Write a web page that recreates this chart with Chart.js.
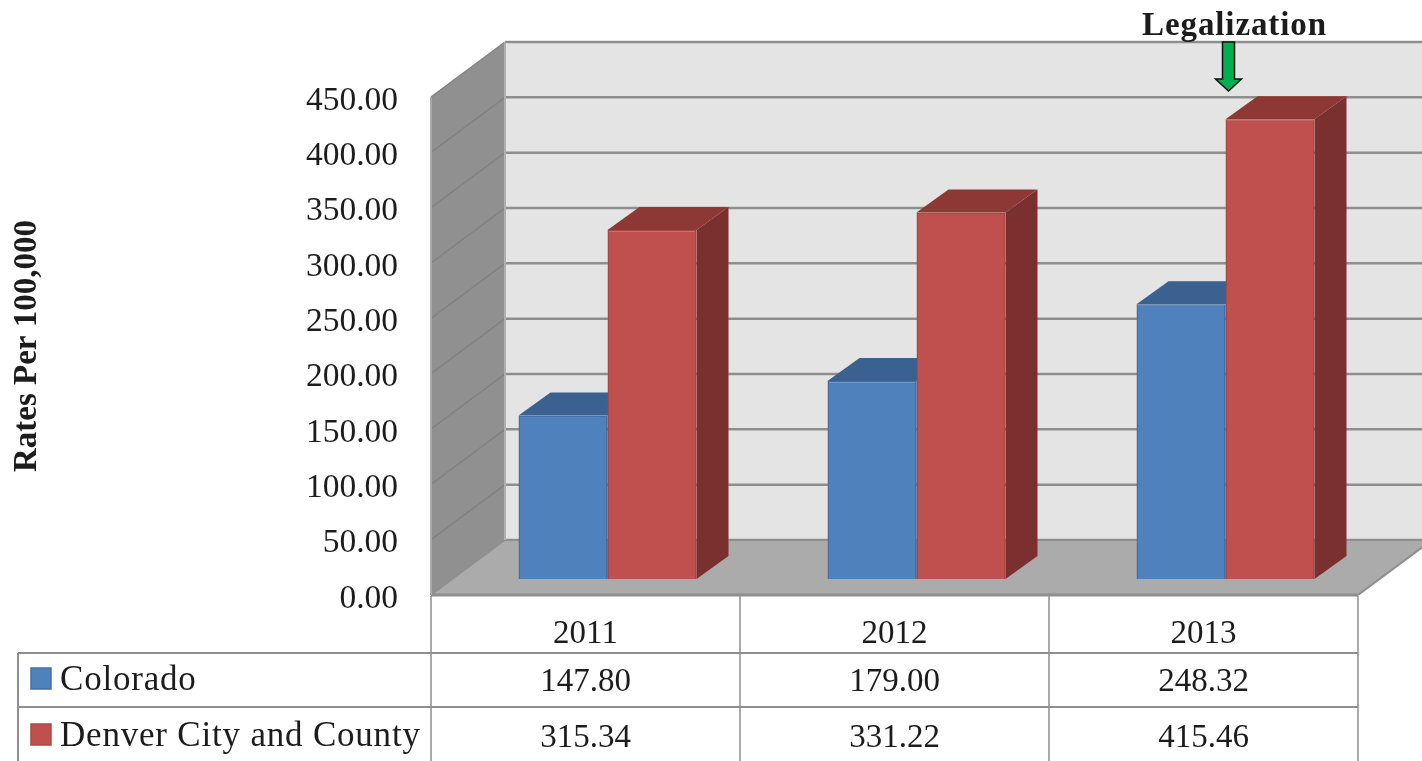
<!DOCTYPE html>
<html><head><meta charset="utf-8">
<style>html,body{margin:0;padding:0;background:#fff}canvas{display:block}</style>
<script src="https://cdn.jsdelivr.net/npm/chart.js@4"></script>
</head><body>
<canvas id="c" width="1422" height="761"></canvas>
<script>
const categories = ['2011','2012','2013'];
const coloradoValues = [147.80,179.00,248.32];
const denverValues = [315.34,331.22,415.46];
const seriesNames = ['Colorado','Denver City and County'];
const axisTitle = 'Rates Per 100,000';
const annotationText = 'Legalization';
const annotationCategory = '2013';
const yMax = 450, yStep = 50;

const SERIF = '"Liberation Serif", serif';
const TXT = '#1c1c1c', LINE = '#8e8e8e';
const WALL = {dx:74, dy:55};
const BAR = {dx:22, dy:16, depthX:32, depthY:23};
const faces = [
  {front:'#4f81bd', border:'#466fa6', top:'#3a6190', side:'#325580'},
  {front:'#c0504d', border:'#ad4744', top:'#8e3836', side:'#7a302e'}
];
function poly(ctx, pts, fill, stroke, lw){
  ctx.beginPath(); pts.forEach((p,i)=> i?ctx.lineTo(p[0],p[1]):ctx.moveTo(p[0],p[1])); ctx.closePath();
  if(fill){ctx.fillStyle=fill;ctx.fill();}
  if(stroke){ctx.strokeStyle=stroke;ctx.lineWidth=lw||1;ctx.stroke();}
}
function hline(ctx,x1,y1,x2,y2,c,w){ctx.beginPath();ctx.moveTo(x1,y1);ctx.lineTo(x2,y2);ctx.strokeStyle=c;ctx.lineWidth=w;ctx.stroke();}

const scene = {
  id:'scene',
  beforeDatasetsDraw(chart){
    const {ctx,chartArea:a,scales:{y}} = chart;
    const {dx,dy} = WALL;
    ctx.save();
    poly(ctx,[[a.left+dx,a.top-dy],[a.right+dx,a.top-dy],[a.right+dx,a.bottom-dy],[a.left+dx,a.bottom-dy]],'#e4e4e4');
    poly(ctx,[[a.left,a.top],[a.left+dx,a.top-dy],[a.left+dx,a.bottom-dy],[a.left,a.bottom]],'#909090');
    y.ticks.forEach(t=>{
      const py=y.getPixelForValue(t.value);
      if(t.value>0) hline(ctx,a.left,py,a.left+dx,py-dy,'#828282',1.5);
      hline(ctx,a.left+dx,py-dy,a.right+dx,py-dy,LINE,2.5);
    });
    poly(ctx,[[a.left,a.bottom],[a.left+dx,a.bottom-dy],[a.right+dx,a.bottom-dy],[a.right,a.bottom]],'#ababab');
    hline(ctx,a.left+dx,a.bottom-dy,a.right+dx,a.bottom-dy,LINE,2);
    hline(ctx,a.left,a.bottom,a.right,a.bottom,LINE,3);
    hline(ctx,a.right,a.bottom,a.right+dx,a.bottom-dy,LINE,2);
    hline(ctx,a.left,a.bottom,a.left+dx,a.bottom-dy,LINE,1.5);
    hline(ctx,a.left+dx,a.top-dy,a.left+dx,a.bottom-dy,'#b0b0b0',2);
    hline(ctx,a.left,a.top,a.left,a.bottom,'#a8a8a8',2);
    const {dx:bx,dy:by,depthX:ex,depthY:ey} = BAR;
    ctx.translate(bx,-by);
    [0,1].forEach(i=>{
      const f=faces[i];
      chart.getDatasetMeta(i).data.forEach(bar=>{
        const l=bar.x-bar.width/2, r=bar.x+bar.width/2, t=bar.y, b=a.bottom;
        poly(ctx,[[r,t],[r+ex,t-ey],[r+ex,b-ey],[r,b]],f.side);
        poly(ctx,[[l,t],[l+ex,t-ey],[r+ex,t-ey],[r,t]],f.top);
      });
    });
    ctx.restore();
  },
  beforeDatasetDraw(chart){
    chart.ctx.save();
    chart.ctx.translate(BAR.dx,-BAR.dy);
  },
  afterDatasetDraw(chart){ chart.ctx.restore(); },
  afterDraw(chart){
    const {ctx,chartArea:a,scales:{x,y}} = chart;
    const rowA=653, rowB=707, labelLeft=18, H=chart.height;
    ctx.save();
    const edges=[a.left,...categories.map((c,i)=>x.getPixelForValue(i)+(a.right-a.left)/categories.length/2)];
    edges.forEach(e=>hline(ctx,e,a.bottom+1,e,H,LINE,1.5));
    hline(ctx,labelLeft,rowA,a.right,rowA,LINE,2);
    hline(ctx,labelLeft,rowB,a.right,rowB,LINE,2);
    hline(ctx,labelLeft,rowA,labelLeft,H,LINE,2);
    const rows=[coloradoValues,denverValues];
    ctx.textBaseline='middle'; ctx.fillStyle=TXT;
    rows.forEach((vals,r)=>{
      const cy=(r?735:679);
      poly(ctx,[[31,cy-11],[51,cy-11],[51,cy+10],[31,cy+10]],faces[r].front,faces[r].border,1.5);
      ctx.fillStyle=TXT; ctx.textAlign='left'; ctx.font='35px '+SERIF;
      ctx.letterSpacing='0.8px';
      ctx.fillText(seriesNames[r],60,cy+2);
      ctx.letterSpacing='0px';
      ctx.font='33px '+SERIF;
      ctx.textAlign='center';
      vals.forEach((v,i)=>ctx.fillText(v.toFixed(2),x.getPixelForValue(i),cy+3));
    });
    const ax=x.getPixelForValue(categories.indexOf(annotationCategory))+25;
    const top=y.getPixelForValue(yMax)-WALL.dy;
    poly(ctx,[[ax-6,top],[ax+6,top],[ax+6,top+37],[ax+13,top+37],[ax,top+49],[ax-13,top+37],[ax-6,top+37]],'#00b050','#111',1.5);
    ctx.fillStyle=TXT; ctx.font='bold 33px '+SERIF; ctx.textAlign='center';
    ctx.letterSpacing='0.9px';
    ctx.fillText(annotationText,ax+6,26);
    ctx.letterSpacing='0px';
    ctx.restore();
  }
};

new Chart(document.getElementById('c'),{
  type:'bar',
  data:{labels:categories,datasets:[
    {label:seriesNames[0],data:coloradoValues,backgroundColor:faces[0].front,borderColor:faces[0].border,borderWidth:1.5,clip:false},
    {label:seriesNames[1],data:denverValues,backgroundColor:faces[1].front,borderColor:faces[1].border,borderWidth:1.5,clip:false}
  ]},
  options:{
    responsive:false,animation:false,
    layout:{padding:{top:97,right:64,left:0,bottom:0}},
    datasets:{bar:{barPercentage:1,categoryPercentage:178/309}},
    plugins:{legend:{display:false},title:{display:false},tooltip:{enabled:false}},
    scales:{
      x:{grid:{display:false,drawTicks:false},border:{display:false},
        ticks:{color:TXT,font:{family:SERIF,size:33},padding:20,maxRotation:0},
        afterFit(s){s.height=166;}},
      y:{min:0,max:yMax,grid:{display:false,drawTicks:false},border:{display:false},
        ticks:{stepSize:yStep,color:TXT,font:{family:SERIF,size:33.5},padding:33,callback:v=>Number(v).toFixed(2)},
        title:{display:true,text:axisTitle,color:TXT,font:{family:SERIF,size:33,weight:'bold'},padding:{top:8,bottom:0}},
        afterFit(s){
          s.width=431;
          if(!s._shifted){
            s._shifted=true;
            const orig=s._computeLabelItems;
            s._computeLabelItems=function(ca){
              const items=orig.call(this,ca);
              items.forEach(it=>{it.textOffset+=4;});
              return items;
            };
          }
        }}
    }
  },
  plugins:[scene]
});
</script>
</body></html>
